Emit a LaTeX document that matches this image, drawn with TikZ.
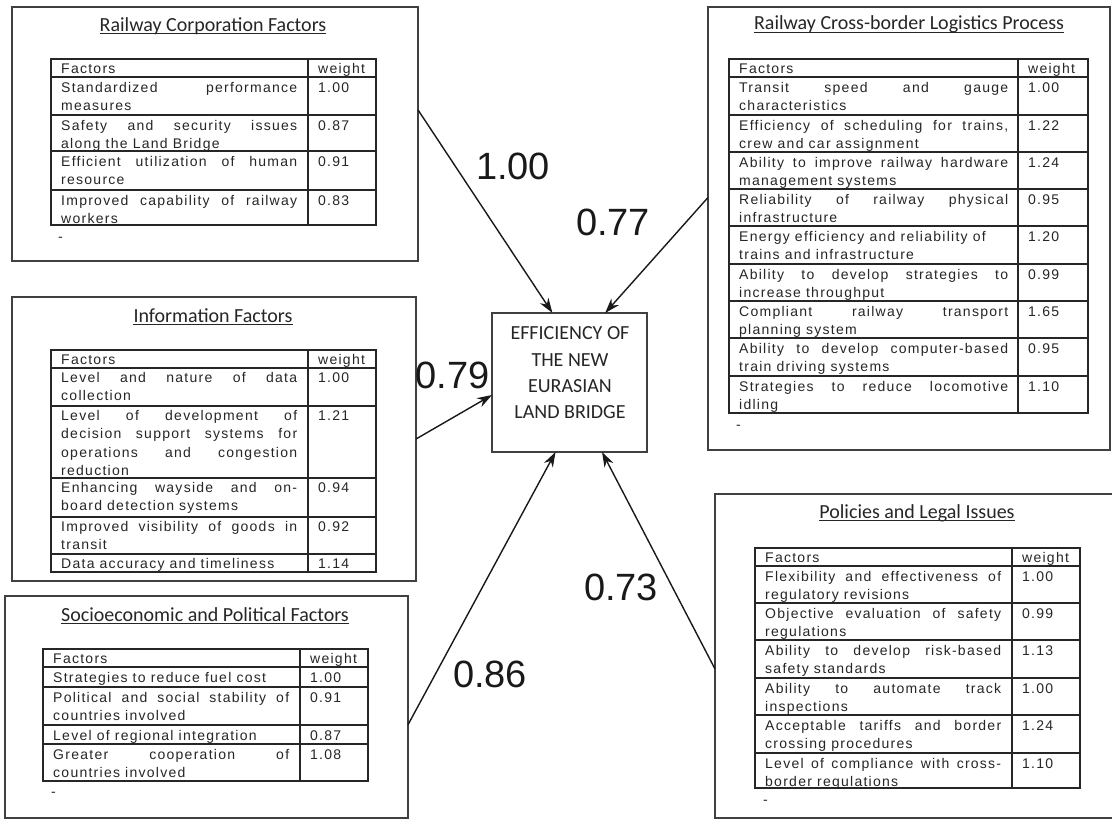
\documentclass[tikz,border=0pt]{standalone}
\usepackage{fontspec}
\usetikzlibrary{arrows.meta,calc}
\newfontfamily\tabfont[LetterSpace=9]{Liberation Sans}
\newfontfamily\capfont{Carlito}
\newfontfamily\numfont{Liberation Sans}
\newcommand\cellfont{\tabfont\fontsize{14}{18.5}\selectfont}
% cell lines: first baseline 12pt below the top, full lines spread to the cell width
\newcommand\cellstrut{\vrule width 0pt height 12pt depth 0pt\relax}
\newcommand\fillline[1]{\hbox to \hsize{\cellstrut#1}}
\newcommand\lastline[1]{\hbox{\cellstrut#1}}
\hbadness=10000

\tikzset{
  panel/.style={draw=black!75, line width=1.2pt, inner sep=0pt, outer sep=0pt},
  grid/.style={draw=black!85, line width=1.4pt},
  cell/.style={anchor=north west, inner sep=0pt, font=\cellfont, text=black!85},
  wt/.style={anchor=base west, inner sep=0pt, font=\cellfont, text=black!85},
  ttl/.style={anchor=base, inner sep=0pt, font=\capfont\fontsize{20}{24}\selectfont, text=black!85},
  uline/.style={line width=0.9pt, black!85},
  efftext/.style={inner sep=0pt, align=center, font=\capfont\fontsize{20}{26.3}\selectfont, text=black!85},
  wlabel/.style={inner sep=0pt, font=\numfont\fontsize{38}{40}\selectfont, text=black!90},
  conn/.style={-{Stealth[length=15pt,width=10pt]}, line width=1.4pt, black!90},
}

\begin{document}
\begin{tikzpicture}[x=1pt, y=-1pt]
  \useasboundingbox (0,0) rectangle (1112,819);
  \fill[white] (0,0) rectangle (1112,819);
  \clip (0,0) rectangle (1112,819);

  % railway corporation factors
  \node[panel, minimum width=406, minimum height=254] (corp) at (215,134) {};
  \node[ttl] (corpttl) at (213,31) {Railway Corporation Factors};
  \draw[uline] ([yshift=-2.5pt]corpttl.base west) -- ([yshift=-2.5pt]corpttl.base east);
  \draw[grid] (51,59) rectangle (376,225) (308,59) -- (308,225);
  \foreach \y in {77,115,151,190} \draw[grid] (51,\y) -- (376,\y);
  \node[wt] (corpf) at (61,73) {Factors};
  \node[wt] (corpw) at (318,73) {weight};
  \foreach \y/\txt/\w in {77/{\fillline{Standardized performance}\lastline{measures}}/1.00,
      115/{\fillline{Safety and security issues}\lastline{along the Land Bridge}}/0.87,
      151/{\fillline{Efficient utilization of human}\lastline{resource}}/0.91,
      190/{\fillline{Improved capability of railway}\lastline{workers}}/0.83} {
    \node[cell] (corp-\y) at (61,\y+3) {\vbox{\hsize=236pt\relax\txt}};
    \node[wt] (corpw-\y) at (318,\y+15) {\w};
  }
  \node[wt] (corpdash) at (58,241) {-};

  % railway cross-border logistics process
  \node[panel, minimum width=402, minimum height=443] (cross) at (909,228.5) {};
  \node[ttl] (crossttl) at (909,30) {Railway Cross-border Logistics Process};
  \draw[uline] ([yshift=-2.5pt]crossttl.base west) -- ([yshift=-2.5pt]crossttl.base east);
  \draw[grid] (729,59) rectangle (1088,413) (1018,59) -- (1018,413);
  \foreach \y in {77,115,152,189,226,264,301,338,376} \draw[grid] (729,\y) -- (1088,\y);
  \node[wt] (crossf) at (739,73) {Factors};
  \node[wt] (crossw) at (1028,73) {weight};
  \foreach \y/\txt/\w in {77/{\fillline{Transit speed and gauge}\lastline{characteristics}}/1.00,
      115/{\fillline{Efficiency of scheduling for trains,}\lastline{crew and car assignment}}/1.22,
      152/{\fillline{Ability to improve railway hardware}\lastline{management systems}}/1.24,
      189/{\fillline{Reliability of railway physical}\lastline{infrastructure}}/0.95,
      226/{\lastline{Energy efficiency and reliability of}\lastline{trains and infrastructure}}/1.20,
      264/{\fillline{Ability to develop strategies to}\lastline{increase throughput}}/0.99,
      301/{\fillline{Compliant railway transport}\lastline{planning system}}/1.65,
      338/{\fillline{Ability to develop computer-based}\lastline{train driving systems}}/0.95,
      376/{\fillline{Strategies to reduce locomotive}\lastline{idling}}/1.10} {
    \node[cell] (cross-\y) at (739,\y+3) {\vbox{\hsize=269pt\relax\txt}};
    \node[wt] (crossw-\y) at (1028,\y+15) {\w};
  }
  \node[wt] (crossdash) at (736,429) {-};

  % information factors
  \node[panel, minimum width=404, minimum height=284] (info) at (214,439) {};
  \node[ttl] (infottl) at (213,322) {Information Factors};
  \draw[uline] ([yshift=-2.5pt]infottl.base west) -- ([yshift=-2.5pt]infottl.base east);
  \draw[grid] (51,350) rectangle (376,572) (308,350) -- (308,572);
  \foreach \y in {368,406,478,517,554} \draw[grid] (51,\y) -- (376,\y);
  \node[wt] (infof) at (61,364) {Factors};
  \node[wt] (infow) at (318,364) {weight};
  \foreach \y/\txt/\w in {368/{\fillline{Level and nature of data}\lastline{collection}}/1.00,
      406/{\fillline{Level of development of}\fillline{decision support systems for}\fillline{operations and congestion}\lastline{reduction}}/1.21,
      478/{\fillline{Enhancing wayside and on-}\lastline{board detection systems}}/0.94,
      517/{\fillline{Improved visibility of goods in}\lastline{transit}}/0.92,
      554/{\lastline{Data accuracy and timeliness}}/1.14} {
    \node[cell] (info-\y) at (61,\y+2) {\vbox{\hsize=236pt\relax\txt}};
    \node[wt] (infow-\y) at (318,\y+14) {\w};
  }

  % socioeconomic and political factors
  \node[panel, minimum width=403, minimum height=222] (socio) at (206.5,707) {};
  \node[ttl] (sociottl) at (205,621) {Socioeconomic and Political Factors};
  \draw[uline] ([yshift=-2.5pt]sociottl.base west) -- ([yshift=-2.5pt]sociottl.base east);
  \draw[grid] (43,649) rectangle (368,781) (300,649) -- (300,781);
  \foreach \y in {667,687,725,744} \draw[grid] (43,\y) -- (368,\y);
  \node[wt] (sociof) at (53,663) {Factors};
  \node[wt] (sociow) at (310,663) {weight};
  \foreach \y/\txt/\w in {667/{\lastline{Strategies to reduce fuel cost}}/1.00,
      687/{\fillline{Political and social stability of}\lastline{countries involved}}/0.91,
      725/{\lastline{Level of regional integration}}/0.87,
      744/{\fillline{Greater cooperation of}\lastline{countries involved}}/1.08} {
    \node[cell] (socio-\y) at (53,\y+3) {\vbox{\hsize=236pt\relax\txt}};
    \node[wt] (sociow-\y) at (310,\y+15) {\w};
  }
  \node[wt] (sociodash) at (51,796) {-};

  % policies and legal issues
  \node[panel, minimum width=410, minimum height=324] (policy) at (920,656) {};
  \node[ttl] (policyttl) at (917,518) {Policies and Legal Issues};
  \draw[uline] ([yshift=-2.5pt]policyttl.base west) -- ([yshift=-2.5pt]policyttl.base east);
  \draw[grid] (755,548) rectangle (1080,788) (1012,548) -- (1012,788);
  \foreach \y in {566,603,640,678,715,753} \draw[grid] (755,\y) -- (1080,\y);
  \node[wt] (policyf) at (765,562) {Factors};
  \node[wt] (policyw) at (1022,562) {weight};
  \foreach \y/\txt/\w in {566/{\fillline{Flexibility and effectiveness of}\lastline{regulatory revisions}}/1.00,
      603/{\fillline{Objective evaluation of safety}\lastline{regulations}}/0.99,
      640/{\fillline{Ability to develop risk-based}\lastline{safety standards}}/1.13,
      678/{\fillline{Ability to automate track}\lastline{inspections}}/1.00,
      715/{\fillline{Acceptable tariffs and border}\lastline{crossing procedures}}/1.24,
      753/{\fillline{Level of compliance with cross-}\lastline{border regulations}}/1.10} {
    \node[cell] (policy-\y) at (765,\y+3) {\vbox{\hsize=236pt\relax\txt}};
    \node[wt] (policyw-\y) at (1022,\y+15) {\w};
  }
  \node[wt] (policydash) at (763,804) {-};

  % centre box
  \node[panel, minimum width=155, minimum height=139] (effic) at (569.5,382.5) {};
  \node[efftext] (efftxt) at (570,373) {EFFICIENCY OF\\THE NEW\\EURASIAN\\LAND BRIDGE};

  % connectors
  \draw[conn] ($(corp.north east)!0.405!(corp.south east)$) -- ($(effic.north west)!0.39!(effic.north east)$);
  \draw[conn] ($(cross.north west)!0.43!(cross.south west)$) -- ($(effic.north west)!0.73!(effic.north east)$);
  \draw[conn] (info.east) -- ($(effic.north west)!0.59!(effic.south west)$);
  \draw[conn] ($(socio.north east)!0.58!(socio.south east)$) -- ($(effic.south west)!0.41!(effic.south east)$);
  \draw[conn] ($(policy.north west)!0.54!(policy.south west)$) -- ($(effic.south west)!0.71!(effic.south east)$);

  % weights
  \node[wlabel] (w1) at (513,166) {1.00};
  \node[wlabel] (w2) at (613,222) {0.77};
  \node[wlabel, anchor=east] (w3) at (490,375) {0.79};
  \node[wlabel] (w4) at (490,674) {0.86};
  \node[wlabel] (w5) at (621,587) {0.73};
\end{tikzpicture}
\end{document}
